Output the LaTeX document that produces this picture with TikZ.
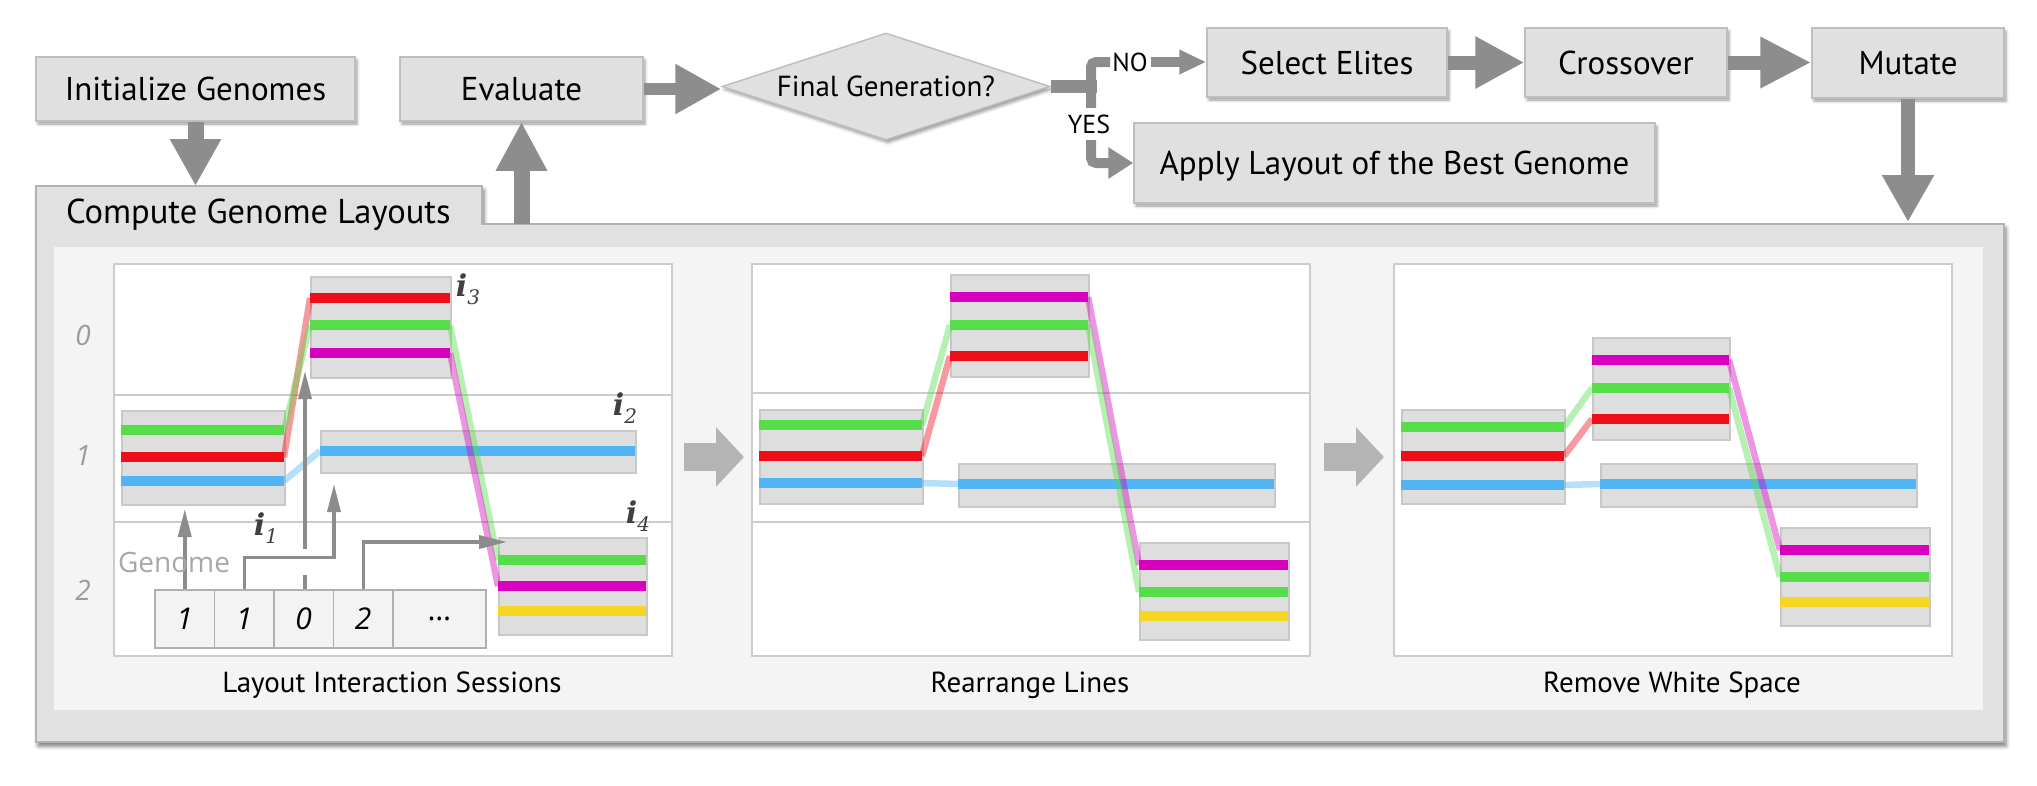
\documentclass[tikz,border=0pt]{standalone}
\usepackage{fontspec}
\setmainfont{PT Sans}
\newfontfamily\osans{Open Sans}
\newfontfamily\ifont{DejaVu Serif}
\usetikzlibrary{arrows.meta,shapes.geometric,shadows.blur}
\definecolor{boxfill}{RGB}{224,224,224}
\definecolor{boxline}{RGB}{190,190,190}
\definecolor{fatgray}{RGB}{141,141,141}
\definecolor{lightarr}{RGB}{180,180,180}
\definecolor{panelfill}{RGB}{225,225,225}
\definecolor{panelline}{RGB}{178,178,178}
\definecolor{innerfill}{RGB}{244,244,244}
\definecolor{framel}{RGB}{204,204,204}
\definecolor{blkfill}{RGB}{222,222,222}
\definecolor{blkline}{RGB}{200,200,200}
\definecolor{cellfill}{RGB}{243,243,243}
\definecolor{cellline}{RGB}{176,176,176}
\definecolor{lred}{RGB}{238,14,24}
\definecolor{lgreen}{RGB}{85,221,74}
\definecolor{lmag}{RGB}{214,0,190}
\definecolor{lblue}{RGB}{80,180,245}
\definecolor{lyel}{RGB}{245,214,32}
\definecolor{arrg}{RGB}{140,140,140}
\definecolor{rowg}{RGB}{155,155,155}
\definecolor{genomec}{RGB}{168,168,168}
\definecolor{ilabc}{RGB}{64,64,64}
\newcommand\sesline[4]{\draw[#1,line width=10pt] (#2,#4) -- (#3,#4);}
\newcommand\sesconn[5]{\draw[#1,line width=6.5pt,opacity=.42] (#2,#3) -- (#4,#5);}
\newcommand\ilabel[1]{{\ifont\bfseries\itshape i}\raisebox{-0.28em}{\ifont\itshape\fontsize{20}{20}\selectfont #1}}
\begin{document}
\begin{tikzpicture}[x=1pt,y=-1pt,
  shad/.style={blur shadow={shadow xshift=2pt,shadow yshift=-3pt,shadow blur radius=3pt,shadow opacity=40}},
  flowbox/.style={draw=boxline,line width=1.5pt,fill=boxfill,inner sep=0pt,
    font=\fontsize{33}{38}\selectfont,text height=23pt,text depth=0pt,shad},
  fat/.style={draw=fatgray,line width=#1},
  blk/.style={draw=blkline,fill=blkfill,line width=2pt,inner sep=0pt,anchor=north west},
  frm/.style={draw=framel,fill=white,line width=2pt,inner sep=0pt,anchor=north west,minimum width=558pt,minimum height=392pt},
  cell/.style={draw=cellline,fill=cellfill,line width=1.5pt,inner sep=0pt,minimum height=58pt,
    font=\osans\itshape\fontsize{30}{36}\selectfont,text height=21.5pt,text depth=0pt},
  garrow/.style={draw=arrg,line width=3.5pt,-{Triangle[length=28pt,width=13pt]}},
  glab/.style={font=\osans\itshape\fontsize{28}{32}\selectfont,text=rowg},
  ilab/.style={text=ilabc,font=\fontsize{30}{34}\selectfont,inner sep=0pt},
  sublab/.style={font=\fontsize{29}{34}\selectfont,anchor=base,inner sep=0pt},
  brlab/.style={font=\fontsize{26}{30}\selectfont,inner xsep=0pt,inner ysep=7pt,text height=18pt,text depth=0pt},
  between/.style={draw=lightarr,line width=28pt,-{Triangle[length=28pt,width=58pt]}}
]
\useasboundingbox (0,0) rectangle (2037,785);

% main panel
\draw[draw=panelline,line width=1.5pt,fill=panelfill,
  blur shadow={shadow xshift=2pt,shadow yshift=-4pt,shadow blur radius=4pt,shadow opacity=55}]
  (36,186) -- (482,186) -- (482,224) -- (2004,224) -- (2004,742) -- (36,742) -- cycle;
\fill[innerfill] (54,247) rectangle (1983,710);
\node[anchor=base west,font=\fontsize{34.5}{40}\selectfont,inner sep=0pt] (tablab) at (66,223) {Compute Genome Layouts};
\coordinate (tabtop) at (195.5,186);
\coordinate (ptopeval) at (521.5,224);
\coordinate (ptopmut) at (1908,222);

% flowchart nodes
\node[flowbox,minimum width=319pt,minimum height=64pt] (init) at (195.5,89) {Initialize Genomes};
\node[flowbox,minimum width=243pt,minimum height=64pt] (eval) at (521.5,89) {Evaluate};
\node[diamond,aspect=3,draw=boxline,fill=boxfill,line width=1.5pt,minimum width=328pt,minimum height=107pt,
  inner sep=0pt,font=\fontsize{29}{34}\selectfont,text height=20pt,text depth=0pt,shad] (final) at (886,86.5) {Final Generation?};
\node[flowbox,minimum width=240pt,minimum height=69pt] (select) at (1327,62.5) {Select Elites};
\node[flowbox,minimum width=202pt,minimum height=69pt] (cross) at (1626,62.5) {Crossover};
\node[flowbox,minimum width=192pt,minimum height=70pt] (mutate) at (1908,63) {Mutate};
\node[flowbox,minimum width=521pt,minimum height=80pt] (apply) at (1394.5,163) {Apply Layout of the Best Genome};

% fat arrows
\draw[fat=16pt,-{Triangle[length=47pt,width=48pt]}] (init.south) -- (tabtop);
\draw[fat=16pt,-{Triangle[length=49pt,width=48pt]}] (ptopeval) -- (eval.south);
\draw[fat=12pt,-{Triangle[length=46pt,width=47pt]}] (eval.east) -- (eval.east -| final.west);
\draw[fat=14pt,-{Triangle[length=49pt,width=49pt]}] (select.east) -- (cross.west);
\draw[fat=14pt,-{Triangle[length=51pt,width=48pt]}] (cross.east) -- (cross.east -| mutate.west);
\draw[fat=14pt,-{Triangle[length=47pt,width=49pt]}] (mutate.south) -- (ptopmut);

% branch
\coordinate (br) at (1091,88);
\draw[fat=13pt] (final.east) -- ([xshift=46pt]final.east);
\node[brlab] (no) at (1130,62) {NO};
\node[brlab] (yes) at (1089,124) {YES};
\draw[fat=10pt,rounded corners=5pt] (yes.north -| br) -- (br |- no.west) -- ([xshift=-2pt]no.west);
\draw[fat=10pt,-{Triangle[length=27pt,width=23pt]}] ([xshift=3pt]no.east) -- (no.east -| select.west);
\draw[fat=10pt,rounded corners=5pt,-{Triangle[length=25pt,width=30pt]}] (yes.south -| br) -- (br |- apply.west) -- (apply.west);

% sub-panel frames
\node[frm] (f1) at (113,263) {};
\node[frm] (f2) at (751,263) {};
\node[frm] (f3) at (1393,263) {};
\draw[framel,line width=2pt] (113,395) -- (671,395) (113,522) -- (671,522);
\draw[framel,line width=2pt] (751,393) -- (1309,393) (751,522) -- (1309,522);

\draw[between] ([shift={(11,-3)}]f1.east) -- ([shift={(-7,-3)}]f2.west);
\draw[between] ([shift={(13,-3)}]f2.east) -- ([shift={(-9,-3)}]f3.west);

% panel 1 blocks
\node[blk,minimum width=163pt,minimum height=94pt] (ia) at (121,410) {};
\node[blk,minimum width=140pt,minimum height=101pt] (ic) at (310,276) {};
\node[blk,minimum width=315pt,minimum height=42pt] (ib) at (320,430) {};
\node[blk,minimum width=148pt,minimum height=97pt] (id) at (498,537) {};
\sesline{lgreen}{121}{284}{430}\sesline{lred}{121}{284}{457}\sesline{lblue}{121}{284}{481}
\sesline{lred}{310}{450}{298}\sesline{lgreen}{310}{450}{325}\sesline{lmag}{310}{450}{353}
\sesline{lblue}{320}{635}{451}
\sesline{lgreen}{498}{646}{560}\sesline{lmag}{498}{646}{586}\sesline{lyel}{498}{646}{611}
\sesconn{lred}{284}{457}{310}{298}
\sesconn{lgreen}{284}{430}{310}{325}
\sesconn{lblue}{284}{481}{320}{451}
\sesconn{lgreen}{450}{325}{498}{560}
\sesconn{lmag}{450}{353}{498}{586}

% panel 2 blocks
\node[blk,minimum width=163pt,minimum height=94pt] (ja) at (759,409) {};
\node[blk,minimum width=138pt,minimum height=102pt] (jc) at (950,274) {};
\node[blk,minimum width=316pt,minimum height=43pt] (jb) at (958,463) {};
\node[blk,minimum width=149pt,minimum height=97pt] (jd) at (1139,542) {};
\sesline{lgreen}{759}{922}{425}\sesline{lred}{759}{922}{456}\sesline{lblue}{759}{922}{483}
\sesline{lmag}{950}{1088}{297}\sesline{lgreen}{950}{1088}{325}\sesline{lred}{950}{1088}{356}
\sesline{lblue}{958}{1274}{484}
\sesline{lmag}{1139}{1288}{565}\sesline{lgreen}{1139}{1288}{592}\sesline{lyel}{1139}{1288}{616}
\sesconn{lgreen}{922}{425}{950}{325}
\sesconn{lred}{922}{456}{950}{356}
\sesconn{lblue}{922}{483}{958}{484}
\sesconn{lmag}{1088}{297}{1139}{565}
\sesconn{lgreen}{1088}{325}{1139}{592}

% panel 3 blocks
\node[blk,minimum width=163pt,minimum height=94pt] (ka) at (1401,409) {};
\node[blk,minimum width=137pt,minimum height=102pt] (kc) at (1592,337) {};
\node[blk,minimum width=316pt,minimum height=43pt] (kb) at (1600,463) {};
\node[blk,minimum width=149pt,minimum height=98pt] (kd) at (1780,527) {};
\sesline{lgreen}{1401}{1564}{427}\sesline{lred}{1401}{1564}{456}\sesline{lblue}{1401}{1564}{485}
\sesline{lmag}{1592}{1729}{360}\sesline{lgreen}{1592}{1729}{388}\sesline{lred}{1592}{1729}{419}
\sesline{lblue}{1600}{1916}{484}
\sesline{lmag}{1780}{1929}{550}\sesline{lgreen}{1780}{1929}{577}\sesline{lyel}{1780}{1929}{602}
\sesconn{lgreen}{1564}{427}{1592}{388}
\sesconn{lred}{1564}{456}{1592}{419}
\sesconn{lblue}{1564}{485}{1600}{484}
\sesconn{lmag}{1729}{360}{1780}{550}
\sesconn{lgreen}{1729}{388}{1780}{577}

% genome cells
\node[cell,minimum width=59.5pt] (c1) at (184.75,619) {1};
\node[cell,minimum width=59.5pt] (c2) at (244.25,619) {1};
\node[cell,minimum width=59.5pt] (c3) at (303.75,619) {0};
\node[cell,minimum width=59.5pt] (c4) at (363.25,619) {2};
\node[cell,minimum width=93pt] (c5) at (439.5,619) {\upshape\raisebox{0.3em}{…}};

% genome arrows
\draw[garrow] (c1.north) -- ([yshift=-3pt]c1.north |- ia.south);
\draw[garrow] (c2.north) -- ++(0,-32) -| ([shift={(14,10)}]ib.south west);
\draw[draw=arrg,line width=3.5pt] (305,589) -- (305,575);
\draw[garrow] (305,549) -- (305,371);
\draw[garrow] (c4.north) |- ([shift={(9,5)}]id.north west);

% labels
\node[glab] (r0) at (83,335) {0};
\node[glab] (r1) at (83,455) {1};
\node[glab] (r2) at (83,590) {2};
\node[font=\osans\fontsize{28}{32}\selectfont,text=genomec] (glabel) at (174,562) {Genome};
\node[ilab] (l3) at (468,289) {\ilabel{3}};
\node[ilab] (l2) at (625,408) {\ilabel{2}};
\node[ilab] (l1) at (266,528) {\ilabel{1}};
\node[ilab] (l4) at (638,516) {\ilabel{4}};

\node[sublab] (s1) at (392,692) {Layout Interaction Sessions};
\node[sublab] (s2) at (1030,692) {Rearrange Lines};
\node[sublab] (s3) at (1672,692) {Remove White Space};
\end{tikzpicture}
\end{document}
